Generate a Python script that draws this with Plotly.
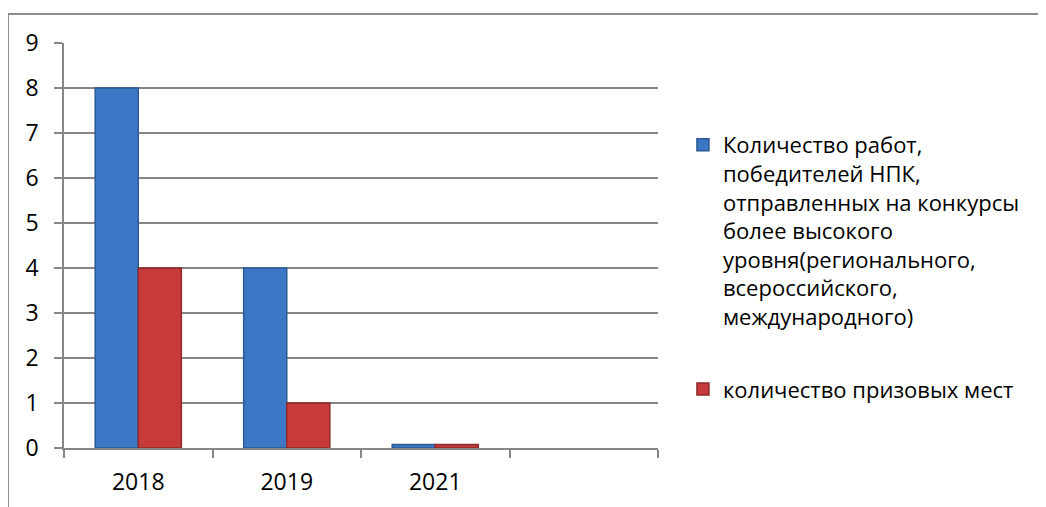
import plotly.graph_objects as go

years = ["2018", "2019", "2021", " "]
works_sent = [8, 4, 0.08, None]
prize_places = [4, 1, 0.08, None]
series_names = [
    "Количество работ,<br>победителей НПК,<br>отправленных на конкурсы<br>более высокого<br>уровня(регионального,<br>всероссийского,<br>международного)",
    "количество призовых мест",
]
y_ticks = list(range(0, 10))

FONT = "Open Sans"

fig = go.Figure()
fig.add_trace(go.Bar(
    x=years, y=works_sent, name=series_names[0], legendgroup="a",
    marker=dict(color="#3C77C5", line=dict(color="#2B5A94", width=1.5)),
))
fig.add_trace(go.Bar(
    x=years, y=prize_places, name=series_names[1], legendgroup="b",
    marker=dict(color="#C63A3B", line=dict(color="#8E2A2A", width=1.5)),
))

# page body has an 8px margin, so the figure is offset by 8px
fig.update_layout(
    width=1038, height=499,
    margin=dict(l=56, r=388, t=35, b=59, autoexpand=False),
    paper_bgcolor="white", plot_bgcolor="white",
    barmode="group", bargap=0.42, bargroupgap=0,
    font=dict(family=FONT, color="black"),
    showlegend=True,
    legend=dict(
        x=1.042, xanchor="left", y=0.80, yanchor="top",
        font=dict(family=FONT, size=22, color="black"),
        traceorder="grouped", tracegroupgap=41,
        itemwidth=30, valign="top",
        bgcolor="rgba(0,0,0,0)",
    ),
    xaxis=dict(
        type="category",
        categoryorder="array", categoryarray=years,
        range=[-0.5, 3.5],
        tickson="boundaries",
        ticks="outside", ticklen=8, tickcolor="#868686", tickwidth=1.5,
        showline=True, linecolor="#868686", linewidth=1.5,
        showgrid=False, automargin=False,
        tickfont=dict(family=FONT, size=23, color="black"),
        ticklabelstandoff=13,
        fixedrange=True,
    ),
    yaxis=dict(
        range=[0, 9],
        tickvals=y_ticks,
        ticks="outside", ticklen=8, tickcolor="#868686", tickwidth=1.5,
        showline=True, linecolor="#868686", linewidth=1.5,
        showgrid=True, gridcolor="#868686", gridwidth=1.5,
        zeroline=False, automargin=False,
        tickfont=dict(family=FONT, size=23, color="black"),
        ticklabelstandoff=11,
        fixedrange=True,
    ),
    shapes=[dict(
        type="rect", xref="paper", yref="paper",
        x0=-0.0943, x1=1.7, y0=-0.3, y1=1.0716,
        line=dict(color="#8C8C8C", width=2), fillcolor="rgba(0,0,0,0)",
        layer="below",
    )],
)

fig.write_html("out.html")
